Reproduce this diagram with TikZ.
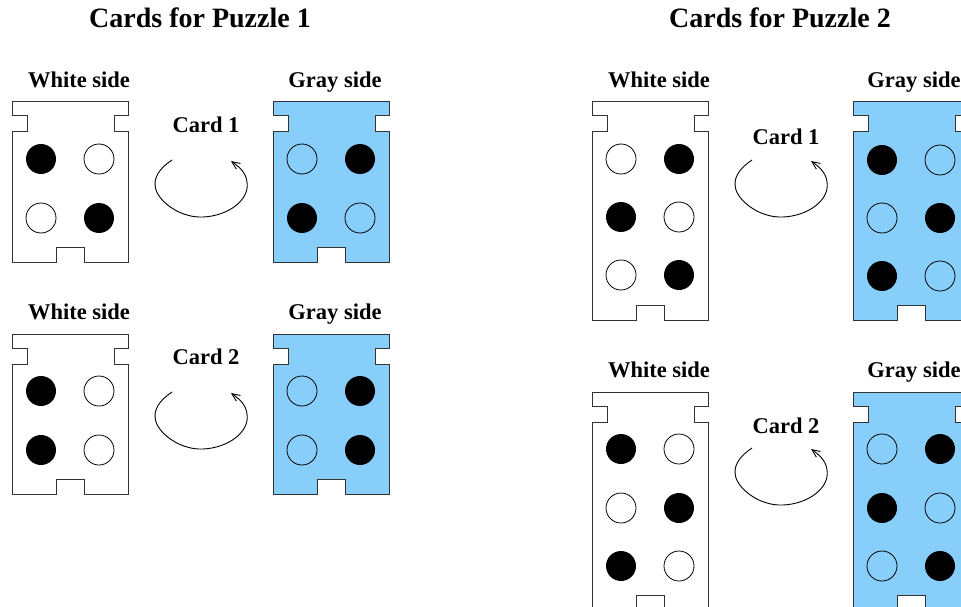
\documentclass[tikz,border=0pt]{standalone}
\usepackage{fontspec}
\setmainfont{Liberation Serif}
\usetikzlibrary{arrows.meta}
\definecolor{cardblue}{HTML}{87CEFA}
\definecolor{edge}{HTML}{333333}
\tikzset{
  cardline/.style={draw=edge, line width=1pt, line join=miter},
  title/.style={font=\fontsize{28}{30}\selectfont\bfseries, inner sep=0pt, anchor=base},
  lbl/.style={font=\fontsize{22.5}{24}\selectfont\bfseries, inner sep=0pt, anchor=base},
  turn/.style={line width=0.9pt, -{Straight Barb[length=8pt,width=7pt]}},
  bk/.style={fill=black},
  wh/.style={draw=black, line width=0.8pt, fill=none},
}
% card: x0, y0, height, fill
\newcommand{\mycard}[4]{%
  \draw[cardline, fill=#4] (#1,#2) -- ++(116,0) -- ++(0,14) -- ++(-14,0) -- ++(0,16) -- ++(14,0)
    -- (#1+116,#2+#3) -- (#1+72,#2+#3) -- ++(0,-15) -- ++(-28,0) -- ++(0,15) -- (#1,#2+#3)
    -- (#1,#2+30) -- ++(15,0) -- ++(0,-16) -- ++(-15,0) -- cycle;}
% dot: x, y, style
\newcommand{\mydot}[3]{\path[#3] (#1,#2) circle[radius=15];}
% turn arrow: x offset, y offset (relative to puzzle 1 card 1)
\newcommand{\myturn}[2]{%
  \draw[turn] (172+#1,160+#2) .. controls (160+#1,168+#2) and (152+#1,178+#2) .. (156+#1,190+#2)
    .. controls (160+#1,202+#2) and (180+#1,218+#2) .. (203+#1,217+#2)
    .. controls (228+#1,216+#2) and (250+#1,200+#2) .. (247+#1,182+#2)
    .. controls (246+#1,172+#2) and (238+#1,166+#2) .. (231+#1,161+#2);}
\begin{document}
\begin{tikzpicture}[x=1pt,y=-1pt]
\useasboundingbox (0,0) rectangle (961,607);
% titles
\node[title] (t1) at (200,28) {Cards for Puzzle 1};
\node[title] (t2) at (780,28) {Cards for Puzzle 2};
% ---------------- Puzzle 1 ----------------
\node[lbl] (w11) at (79,88) {White side};
\node[lbl] (g11) at (335,88) {Gray side};
\node[lbl] (c11) at (206,132) {Card 1};
\mycard{12}{102}{160}{white}
\mycard{273}{102}{160}{cardblue}
\mydot{41}{159}{bk}\mydot{99}{159}{wh}
\mydot{41}{218}{wh}\mydot{99}{218}{bk}
\mydot{302}{159}{wh}\mydot{360}{159}{bk}
\mydot{302}{218}{bk}\mydot{360}{218}{wh}
\myturn{0}{0}

\node[lbl] (w12) at (79,319) {White side};
\node[lbl] (g12) at (335,319) {Gray side};
\node[lbl] (c12) at (206,364) {Card 2};
\mycard{12}{334}{160}{white}
\mycard{273}{334}{160}{cardblue}
\mydot{41}{391}{bk}\mydot{99}{391}{wh}
\mydot{41}{450}{bk}\mydot{99}{450}{wh}
\mydot{302}{391}{wh}\mydot{360}{391}{bk}
\mydot{302}{450}{wh}\mydot{360}{450}{bk}
\myturn{0}{232}
% ---------------- Puzzle 2 ----------------
\node[lbl] (w21) at (659,88) {White side};
\node[lbl] (g21) at (914,88) {Gray side};
\node[lbl] (c21) at (786,145) {Card 1};
\mycard{592}{102}{218}{white}
\mycard{853}{102}{218}{cardblue}
\mydot{621}{159}{wh}\mydot{679}{159}{bk}
\mydot{621}{217}{bk}\mydot{679}{217}{wh}
\mydot{621}{275}{wh}\mydot{679}{275}{bk}
\mydot{882}{160}{bk}\mydot{940}{160}{wh}
\mydot{882}{218}{wh}\mydot{940}{218}{bk}
\mydot{882}{276}{bk}\mydot{940}{276}{wh}
\myturn{580}{0}

\node[lbl] (w22) at (659,377) {White side};
\node[lbl] (g22) at (914,377) {Gray side};
\node[lbl] (c22) at (786,433) {Card 2};
\mycard{592}{392}{218}{white}
\mycard{853}{392}{218}{cardblue}
\mydot{621}{449}{bk}\mydot{679}{449}{wh}
\mydot{621}{508}{wh}\mydot{679}{508}{bk}
\mydot{621}{566}{bk}\mydot{679}{566}{wh}
\mydot{882}{449}{wh}\mydot{940}{449}{bk}
\mydot{882}{508}{bk}\mydot{940}{508}{wh}
\mydot{882}{566}{wh}\mydot{940}{566}{bk}
\myturn{580}{288}
\end{tikzpicture}
\end{document}
